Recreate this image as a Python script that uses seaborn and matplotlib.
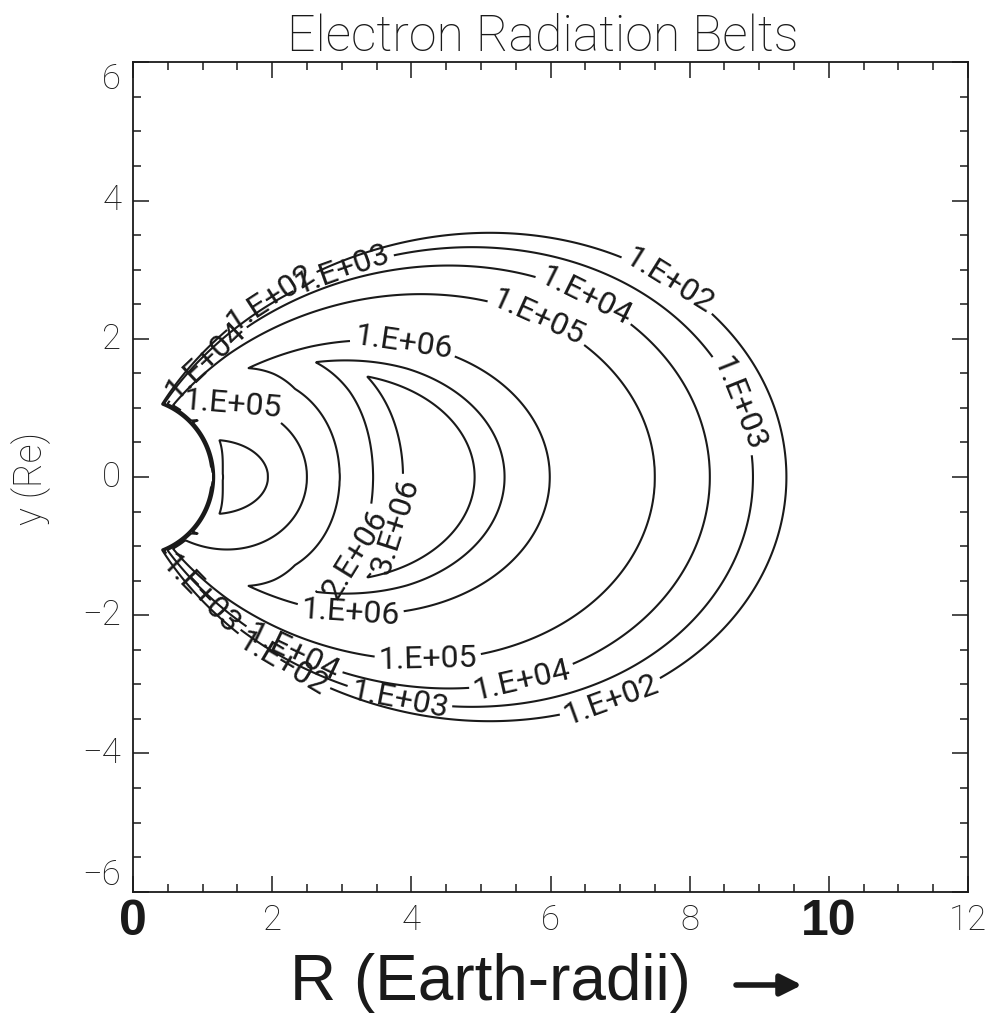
import numpy as np
import matplotlib
matplotlib.use("Agg")
import matplotlib.pyplot as plt
import seaborn as sns

# ---------------- data ----------------
levels = [1e2, 1e3, 1e4, 1e5, 1e6, 2e6, 3e6]
level_text = ["1.E+02", "1.E+03", "1.E+04", "1.E+05", "1.E+06", "2.E+06", "3.E+06"]

# equatorial (y = 0) flux profile: L-shell (Earth radii) and log10 flux,
# taken from where each contour crosses the equator
eq_L = [1.15, 1.29, 1.60, 1.94, 2.20, 2.50, 2.97, 3.45, 3.88, 4.35,
        4.91, 5.34, 5.99, 7.50, 8.29, 8.91, 9.39, 10.2]
eq_logj = [4.3, 5.0, 5.2, 5.0, 4.6, 5.0, 6.0, 6.301, 6.477, 6.68,
           6.477, 6.301, 6.0, 5.0, 4.0, 3.0, 2.0, 0.5]

# fall-off of flux along a field line (read from the crescent tips)
lat_exponent = 0.66
earth_cutoff_r = 1.13

x_ticks = [0, 2, 4, 6, 8, 10, 12]
x_tick_text = ["0", "2", "4", "6", "8", "10", "12"]
y_ticks = [-6, -4, -2, 0, 2, 4, 6]
y_tick_text = ["\u22126", "\u22124", "\u22122", "0", "2", "4", "6"]

title_text = "Electron Radiation Belts"
xlabel_text = "R (Earth-radii)"
ylabel_text = "y (Re)"

# where the contour labels sit, per level
label_positions = {
    1e2: [(7.72, 2.85), (6.82, -3.08), (1.94, 2.63), (2.11, -2.77)],
    1e3: [(8.65, 1.04), (3.84, -3.15), (2.97, 3.11), (0.82, -1.85)],
    1e4: [(6.60, 2.82), (5.59, -2.94), (0.82, 1.91), (2.28, -2.58)],
    1e5: [(5.89, 2.45), (4.24, -2.76), (1.42, 1.04)],
    1e6: [(3.90, 2.05), (3.12, -2.03)],
    2e6: [(2.95, -0.98)],
    3e6: [(3.69, -0.69)],
}

# ---------------- style ----------------
sns.set_theme(style="white")
plt.rcParams["font.family"] = ["Roboto", "DejaVu Sans"]
plt.rcParams["font.weight"] = "normal"
plt.rcParams["text.color"] = "black"

W, H = 990, 1023
fig = plt.figure(figsize=(W / 100, H / 100), dpi=100)
fig.patch.set_facecolor("white")
ax = fig.add_axes([133 / W, 1 - 891.7 / H, (968 - 133) / W, (891.7 - 62.3) / H])
ax.set_facecolor("white")
ax.set_xlim(0, 12)
ax.set_ylim(-6, 6)

# ---------------- field on the grid (dipole geometry) ----------------
xs = np.linspace(0, 12, 1501)
ys = np.linspace(-6, 6, 1501)
X, Y = np.meshgrid(xs, ys)
R = np.hypot(X, Y)
lam = np.arctan2(Y, X)
cl = np.maximum(np.cos(lam), 1e-6)
Lsh = R / cl ** 2
bratio = np.sqrt(1 + 3 * np.sin(lam) ** 2) / cl ** 6
logF = np.interp(Lsh, eq_L, eq_logj, left=-3, right=-3) - lat_exponent * np.log10(bratio)
# steep fall-off at the atmosphere edge: contours pile up along it
logF = np.minimum(logF, 2.0 + 55.0 * (R - earth_cutoff_r))

for lv, txt in zip(levels, level_text):
    c = ax.contour(X, Y, logF, levels=[np.log10(lv)], colors="k", linewidths=1.5)
    ax.clabel(c, fmt={c.levels[0]: txt}, manual=label_positions[lv], inline=True,
              inline_spacing=4, fontsize=23, colors="k")

ax.set_xlim(0, 12)
ax.set_ylim(-6, 6)

# ---------------- axes decoration ----------------
for s in ax.spines.values():
    s.set_color("k")
    s.set_linewidth(1.3)
ax.set_xticks(x_ticks)
ax.set_yticks(y_ticks)
ax.set_xticks(np.arange(0, 12.01, 0.5), minor=True)
ax.set_yticks(np.arange(-6, 6.01, 0.5), minor=True)
ax.tick_params(which="both", direction="in", top=True, right=True, bottom=True, left=True,
               color="k", width=1.1)
ax.tick_params(which="major", length=11.5)
ax.tick_params(which="minor", length=5.8)
ax.set_xticklabels([])
ax.set_yticklabels([])

# x tick labels
for v, t in zip(x_ticks, x_tick_text):
    if t in ("0", "10"):
        ax.text(v, -6.1, t, ha="center", va="top", fontsize=36, fontweight="bold",
                family=["Liberation Sans Narrow", "Liberation Sans"], color="k")
    else:
        ax.text(v, -6.17, t, ha="center", va="top", fontsize=25, color="k",
                fontweight="light")
# y tick labels
for v, t in zip(y_ticks, y_tick_text):
    va = "center"
    if v == 6:
        va = "top"
    elif v == -6:
        va = "bottom"
    ax.text(-0.17, v, t, ha="right", va=va, fontsize=25, color="k", fontweight="light")

fig.text(543 / W, 1 - 37 / H, title_text, ha="center", va="center", fontsize=36,
         fontweight="light", color="k")
fig.text(31 / W, 1 - 478 / H, ylabel_text, ha="center", va="center", rotation=90,
         fontsize=27, fontweight="light", color="k")
fig.text(490 / W, 1 - 983 / H, xlabel_text, ha="center", va="center", fontsize=46,
         family="Liberation Sans", color="k")
ax.annotate("", xy=(802 / W, 1 - 985 / H), xytext=(736 / W, 1 - 985 / H),
            xycoords="figure fraction", textcoords="figure fraction",
            arrowprops=dict(arrowstyle="-|>", lw=4, color="k", mutation_scale=32,
                            shrinkA=0, shrinkB=0))

fig.savefig("out.png", dpi=100, facecolor="white")
